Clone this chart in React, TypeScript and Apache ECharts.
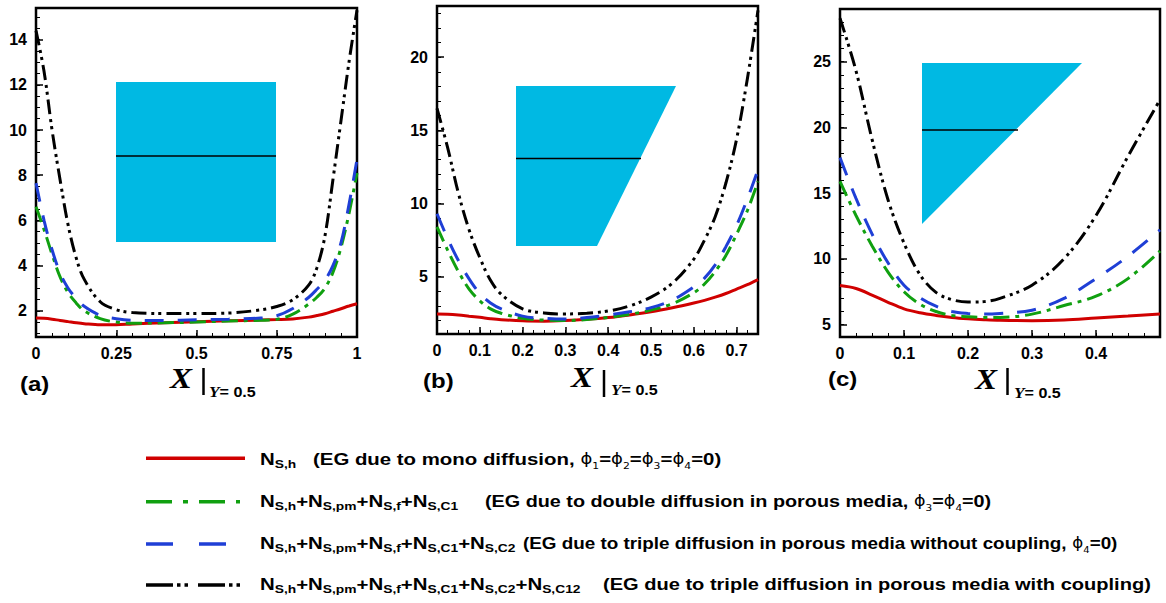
import React, { useEffect, useRef } from "react";
import * as echarts from "echarts";

// ---------- Panel (a): square cavity ----------
const xA = [0, 0.025, 0.05, 0.075, 0.1, 0.125, 0.15, 0.2, 0.25, 0.3, 0.4, 0.5, 0.6, 0.7, 0.75, 0.8, 0.85, 0.875, 0.9, 0.925, 0.95, 0.975, 1];
const redA = [1.68, 1.67, 1.63, 1.57, 1.52, 1.47, 1.43, 1.38, 1.38, 1.42, 1.47, 1.52, 1.56, 1.59, 1.61, 1.64, 1.72, 1.79, 1.87, 1.98, 2.09, 2.21, 2.31];
const greenA = [6.6, 5.6, 4.5, 3.5, 2.8, 2.35, 2.0, 1.65, 1.5, 1.45, 1.47, 1.5, 1.55, 1.58, 1.62, 1.85, 2.3, 2.6, 3.0, 3.7, 4.8, 6.3, 8.1];
const blueA = [7.65, 6.0, 4.7, 3.67, 3.0, 2.55, 2.2, 1.8, 1.65, 1.58, 1.57, 1.6, 1.63, 1.68, 1.78, 2.1, 2.6, 2.95, 3.35, 4.0, 5.0, 6.7, 8.7];
const blackA = [14.4, 12.6, 10.0, 7.8, 5.8, 4.35, 3.4, 2.4, 2.05, 1.92, 1.88, 1.88, 1.9, 2.04, 2.19, 2.49, 3.15, 3.9, 5.3, 7.8, 10.4, 13.0, 15.3];

// ---------- Panel (b): trapezoidal cavity ----------
const xB = [0, 0.025, 0.05, 0.075, 0.1, 0.125, 0.15, 0.2, 0.25, 0.3, 0.35, 0.4, 0.45, 0.5, 0.55, 0.6, 0.625, 0.65, 0.675, 0.7, 0.725, 0.75];
const redB = [2.44, 2.43, 2.38, 2.3, 2.22, 2.13, 2.06, 1.98, 1.96, 2.0, 2.08, 2.2, 2.38, 2.6, 2.88, 3.2, 3.38, 3.6, 3.85, 4.15, 4.45, 4.8];
const greenB = [8.4, 6.8, 5.35, 4.15, 3.35, 2.8, 2.5, 2.15, 2.03, 2.0, 2.07, 2.22, 2.42, 2.72, 3.15, 3.9, 4.5, 5.35, 6.45, 7.9, 9.5, 11.5];
const blueB = [9.3, 7.6, 6.1, 4.85, 3.85, 3.2, 2.8, 2.3, 2.15, 2.1, 2.2, 2.38, 2.6, 2.88, 3.4, 4.3, 4.9, 5.8, 7.05, 8.5, 10.3, 12.3];
const blackB = [16.5, 13.8, 10.7, 8.2, 6.3, 4.75, 3.8, 2.8, 2.52, 2.45, 2.5, 2.65, 3.0, 3.6, 4.55, 6.2, 7.5, 9.1, 11.4, 14.4, 18.5, 23.2];

// ---------- Panel (c): triangular cavity ----------
const xC = [0, 0.025, 0.05, 0.075, 0.1, 0.125, 0.15, 0.175, 0.2, 0.225, 0.25, 0.3, 0.35, 0.4, 0.45, 0.5];
const redC = [7.97, 7.75, 7.25, 6.7, 6.2, 5.9, 5.7, 5.55, 5.45, 5.38, 5.33, 5.3, 5.35, 5.5, 5.65, 5.81];
const greenC = [15.9, 13.3, 11.0, 9.0, 7.5, 6.55, 6.0, 5.7, 5.6, 5.55, 5.55, 5.8, 6.45, 7.16, 8.5, 10.6];
const blueC = [17.7, 14.6, 11.9, 9.7, 8.0, 7.05, 6.4, 6.0, 5.85, 5.8, 5.85, 6.1, 7.0, 8.5, 10.2, 12.2];
const blackC = [28.3, 24.3, 19.1, 14.5, 11.2, 8.8, 7.45, 6.9, 6.72, 6.75, 7.0, 8.0, 10.0, 13.3, 17.8, 22.1];

// ---------- Tick labels ----------
const xTicksA = [0, 0.25, 0.5, 0.75, 1];
const yTicksA = [2, 4, 6, 8, 10, 12, 14];
const xTicksB = [0, 0.1, 0.2, 0.3, 0.4, 0.5, 0.6, 0.7];
const yTicksB = [5, 10, 15, 20];
const xTicksC = [0, 0.1, 0.2, 0.3, 0.4];
const yTicksC = [5, 10, 15, 20, 25];

// ---------- Series names & legend text ----------
const seriesNames = [
  "N_S,h",
  "N_S,h+N_S,pm+N_S,f+N_S,C1",
  "N_S,h+N_S,pm+N_S,f+N_S,C1+N_S,C2",
  "N_S,h+N_S,pm+N_S,f+N_S,C1+N_S,C2+N_S,C12",
];
const legendTerms = [
  ["S,h"],
  ["S,h", "S,pm", "S,f", "S,C1"],
  ["S,h", "S,pm", "S,f", "S,C1", "S,C2"],
  ["S,h", "S,pm", "S,f", "S,C1", "S,C2", "S,C12"],
];
const legendNotes = [
  "(EG due to mono diffusion, ",
  "(EG due to double diffusion in porous media, ",
  "(EG due to triple diffusion in porous media without coupling, ",
  "(EG due to triple diffusion in porous media with coupling)",
];
const legendPhis = [[1, 2, 3, 4], [3, 4], [4], []];
const panelTags = ["(a)", "(b)", "(c)"];

const COLORS = ["#d00000", "#10a010", "#1f3fd6", "#000000"];
const DASHES: (number[] | "solid")[] = ["solid", [16, 6, 4, 6], [19, 14], [15, 5, 3, 4, 3, 5]];
const LEGEND_DASHES: (number[] | null)[] = [null, [26, 11, 5, 11], [27, 26], [27, 4, 3.5, 4, 3.5, 10]];
const CYAN = "#00b9e3";

function steps(from: number, to: number, step: number): number[] {
  const out: number[] = [];
  const n = Math.round((to - from) / step);
  for (let i = 0; i <= n; i++) out.push(+(from + i * step).toFixed(6));
  return out;
}

const labelStyle = {
  color: "#000",
  fontWeight: "bold" as const,
  fontSize: 16,
  fontFamily: '"Liberation Sans", Arial, sans-serif',
};

function xAxes(grid: number, min: number, max: number, majors: number[], minors: number[]) {
  return [
    {
      type: "value", gridIndex: grid, min, max, position: "bottom",
      axisLine: { show: false },
      splitLine: { show: false },
      axisTick: { show: true, inside: true, length: 7, customValues: majors, lineStyle: { color: "#000", width: 1.5 } },
      axisLabel: { ...labelStyle, margin: 8, customValues: majors },
    },
    {
      type: "value", gridIndex: grid, min, max, position: "bottom", offset: 0,
      axisLine: { show: false },
      splitLine: { show: false },
      axisTick: { show: true, inside: true, length: 4, customValues: minors, lineStyle: { color: "#000", width: 1 } },
      axisLabel: { show: false },
    },
  ];
}

function yAxes(grid: number, min: number, max: number, majors: number[], minors: number[]) {
  return [
    {
      type: "value", gridIndex: grid, min, max, position: "left",
      axisLine: { show: false },
      splitLine: { show: false },
      axisTick: { show: true, inside: true, length: 7, customValues: majors, lineStyle: { color: "#000", width: 1.5 } },
      axisLabel: { ...labelStyle, margin: 9, customValues: majors },
    },
    {
      type: "value", gridIndex: grid, min, max, position: "left", offset: 0,
      axisLine: { show: false },
      splitLine: { show: false },
      axisTick: { show: true, inside: true, length: 4, customValues: minors, lineStyle: { color: "#000", width: 1 } },
      axisLabel: { show: false },
    },
  ];
}

const panels = [
  { x: xA, ys: [redA, greenA, blueA, blackA] },
  { x: xB, ys: [redB, greenB, blueB, blackB] },
  { x: xC, ys: [redC, greenC, blueC, blackC] },
];

function buildSeries() {
  const out: any[] = [];
  panels.forEach((p, gi) => {
    p.ys.forEach((ys, si) => {
      out.push({
        type: "line",
        name: seriesNames[si],
        xAxisIndex: gi * 2,
        yAxisIndex: gi * 2,
        data: p.x.map((x, i) => [x, ys[i]]),
        symbol: "none",
        smooth: 0.35,
        clip: true,
        z: 3 + si,
        lineStyle: { color: COLORS[si], width: 3, type: DASHES[si], cap: "butt" },
      });
    });
  });
  return out;
}

const rich = {
  n: { font: 'bold 17px "Liberation Sans"', fill: "#000", lineHeight: 22 },
  s: { font: 'bold 11.5px "Liberation Sans"', fill: "#000", lineHeight: 12, verticalAlign: "bottom" },
  p: { font: '15px "DejaVu Sans"', fill: "#000", lineHeight: 22 },
  q: { font: '9px "DejaVu Sans"', fill: "#000", lineHeight: 10, verticalAlign: "bottom" },
};

function buildGraphics() {
  const g: any[] = [];
  // insets
  g.push({ type: "rect", z: 1, shape: { x: 116, y: 82, width: 160, height: 160 }, style: { fill: CYAN } });
  g.push({ type: "line", z: 1, shape: { x1: 116, y1: 156, x2: 276, y2: 156 }, style: { stroke: "#000", lineWidth: 1.5 } });
  g.push({ type: "polygon", z: 1, shape: { points: [[516, 86], [676, 86], [597, 246], [516, 246]] }, style: { fill: CYAN } });
  g.push({ type: "line", z: 1, shape: { x1: 516, y1: 158.5, x2: 641, y2: 158.5 }, style: { stroke: "#000", lineWidth: 1.5 } });
  g.push({ type: "polygon", z: 1, shape: { points: [[922, 63], [1082, 63], [922, 224]] }, style: { fill: CYAN } });
  g.push({ type: "line", z: 1, shape: { x1: 922, y1: 130, x2: 1018, y2: 130 }, style: { stroke: "#000", lineWidth: 1.5 } });

  // panel tags and axis titles
  const tagPos = [[20, 384], [423, 381], [828, 379]];
  const xPos = [[170, 378], [571, 377], [975, 379]];
  const barPos = [[203.5, 368, 395], [604, 370, 397], [1007.5, 368, 395]];
  const subPos = [[209, 392], [611, 390], [1014, 393]];
  for (let i = 0; i < 3; i++) {
    g.push({
      type: "text", x: tagPos[i][0], y: tagPos[i][1], scaleX: 1.2,
      style: { text: panelTags[i], font: 'bold 20px "Liberation Sans"', fill: "#000", align: "left", verticalAlign: "middle", textAlign: "left", textVerticalAlign: "middle" },
    });
    g.push({
      type: "text", x: xPos[i][0], y: xPos[i][1], scaleX: 1.1,
      style: { text: "X", font: 'italic bold 30px "Liberation Serif"', fill: "#000", align: "left", verticalAlign: "middle", textAlign: "left", textVerticalAlign: "middle" },
    });
    g.push({
      type: "line", shape: { x1: barPos[i][0], y1: barPos[i][1], x2: barPos[i][0], y2: barPos[i][2] },
      style: { stroke: "#000", lineWidth: 2.5 },
    });
    g.push({
      type: "text", x: subPos[i][0], y: subPos[i][1], scaleX: 1.15,
      style: {
        text: "{y|Y}{e|= 0.5}",
        rich: {
          y: { font: 'italic bold 15px "Liberation Serif"', fill: "#000", lineHeight: 18 },
          e: { font: 'bold 14px "Liberation Sans"', fill: "#000", lineHeight: 18 },
        },
        align: "left", verticalAlign: "middle", textAlign: "left", textVerticalAlign: "middle",
      },
    });
  }

  // legend
  const rowY = [459, 501, 543, 584];
  const lineY = [458.3, 501.7, 544, 585];
  const lineEnd = [245, 240, 227, 240];
  const noteX = [313, 485, 523, 603];
  const noteScale = [1.2, 1.165, 1.11, 1.18];
  for (let r = 0; r < 4; r++) {
    const st: any = { stroke: COLORS[r], lineWidth: 3.5 };
    if (LEGEND_DASHES[r]) st.lineDash = LEGEND_DASHES[r];
    g.push({ type: "line", shape: { x1: 146, y1: lineY[r], x2: lineEnd[r], y2: lineY[r] }, style: st });
    const chain = legendTerms[r].map((t) => `{n|N}{s|${t}}`).join("{n|+}");
    g.push({
      type: "text", x: 260, y: rowY[r], scaleX: 1.2,
      style: { text: chain, rich, align: "left", verticalAlign: "middle", textAlign: "left", textVerticalAlign: "middle" },
    });
    let note = `{n|${legendNotes[r]}}`;
    if (legendPhis[r].length) {
      note += legendPhis[r].map((k) => `{p|ϕ}{q|${k}}`).join("{n|=}") + "{n|=0)}";
    }
    g.push({
      type: "text", x: noteX[r], y: rowY[r], scaleX: noteScale[r],
      style: { text: note, rich, align: "left", verticalAlign: "middle", textAlign: "left", textVerticalAlign: "middle" },
    });
  }
  return g;
}

const gridBase = { show: true, borderColor: "#000", borderWidth: 2.5, backgroundColor: "transparent", containLabel: false, outerBoundsMode: "none" };

const option: any = {
  animation: false,
  backgroundColor: "#fff",
  grid: [
    { ...gridBase, left: 36, top: 8, width: 321, height: 329 },
    { ...gridBase, left: 437, top: 6, width: 321, height: 328 },
    { ...gridBase, left: 840, top: 9, width: 320, height: 328 },
  ],
  xAxis: [
    ...xAxes(0, 0, 1, xTicksA, steps(0, 1, 0.05)),
    ...xAxes(1, 0, 0.75, xTicksB, steps(0, 0.75, 0.025)),
    ...xAxes(2, 0, 0.5, xTicksC, steps(0, 0.5, 0.025)),
  ],
  yAxis: [
    ...yAxes(0, 0.84, 15.4, yTicksA, steps(1, 15, 0.5)),
    ...yAxes(1, 1.08, 23.5, yTicksB, steps(2, 23, 1)),
    ...yAxes(2, 4.06, 29, yTicksC, steps(5, 28, 1)),
  ],
  series: buildSeries(),
  graphic: { elements: buildGraphics() },
};

export default function App() {
  const ref = useRef<HTMLDivElement>(null);
  useEffect(() => {
    if (!ref.current) return;
    const chart = echarts.init(ref.current, null, { renderer: "svg" });
    chart.setOption(option);
    return () => chart.dispose();
  }, []);
  return (
    <div
      ref={ref}
      style={{ position: "absolute", left: 0, top: 0, width: 1166, height: 603, background: "#fff" }}
    />
  );
}
